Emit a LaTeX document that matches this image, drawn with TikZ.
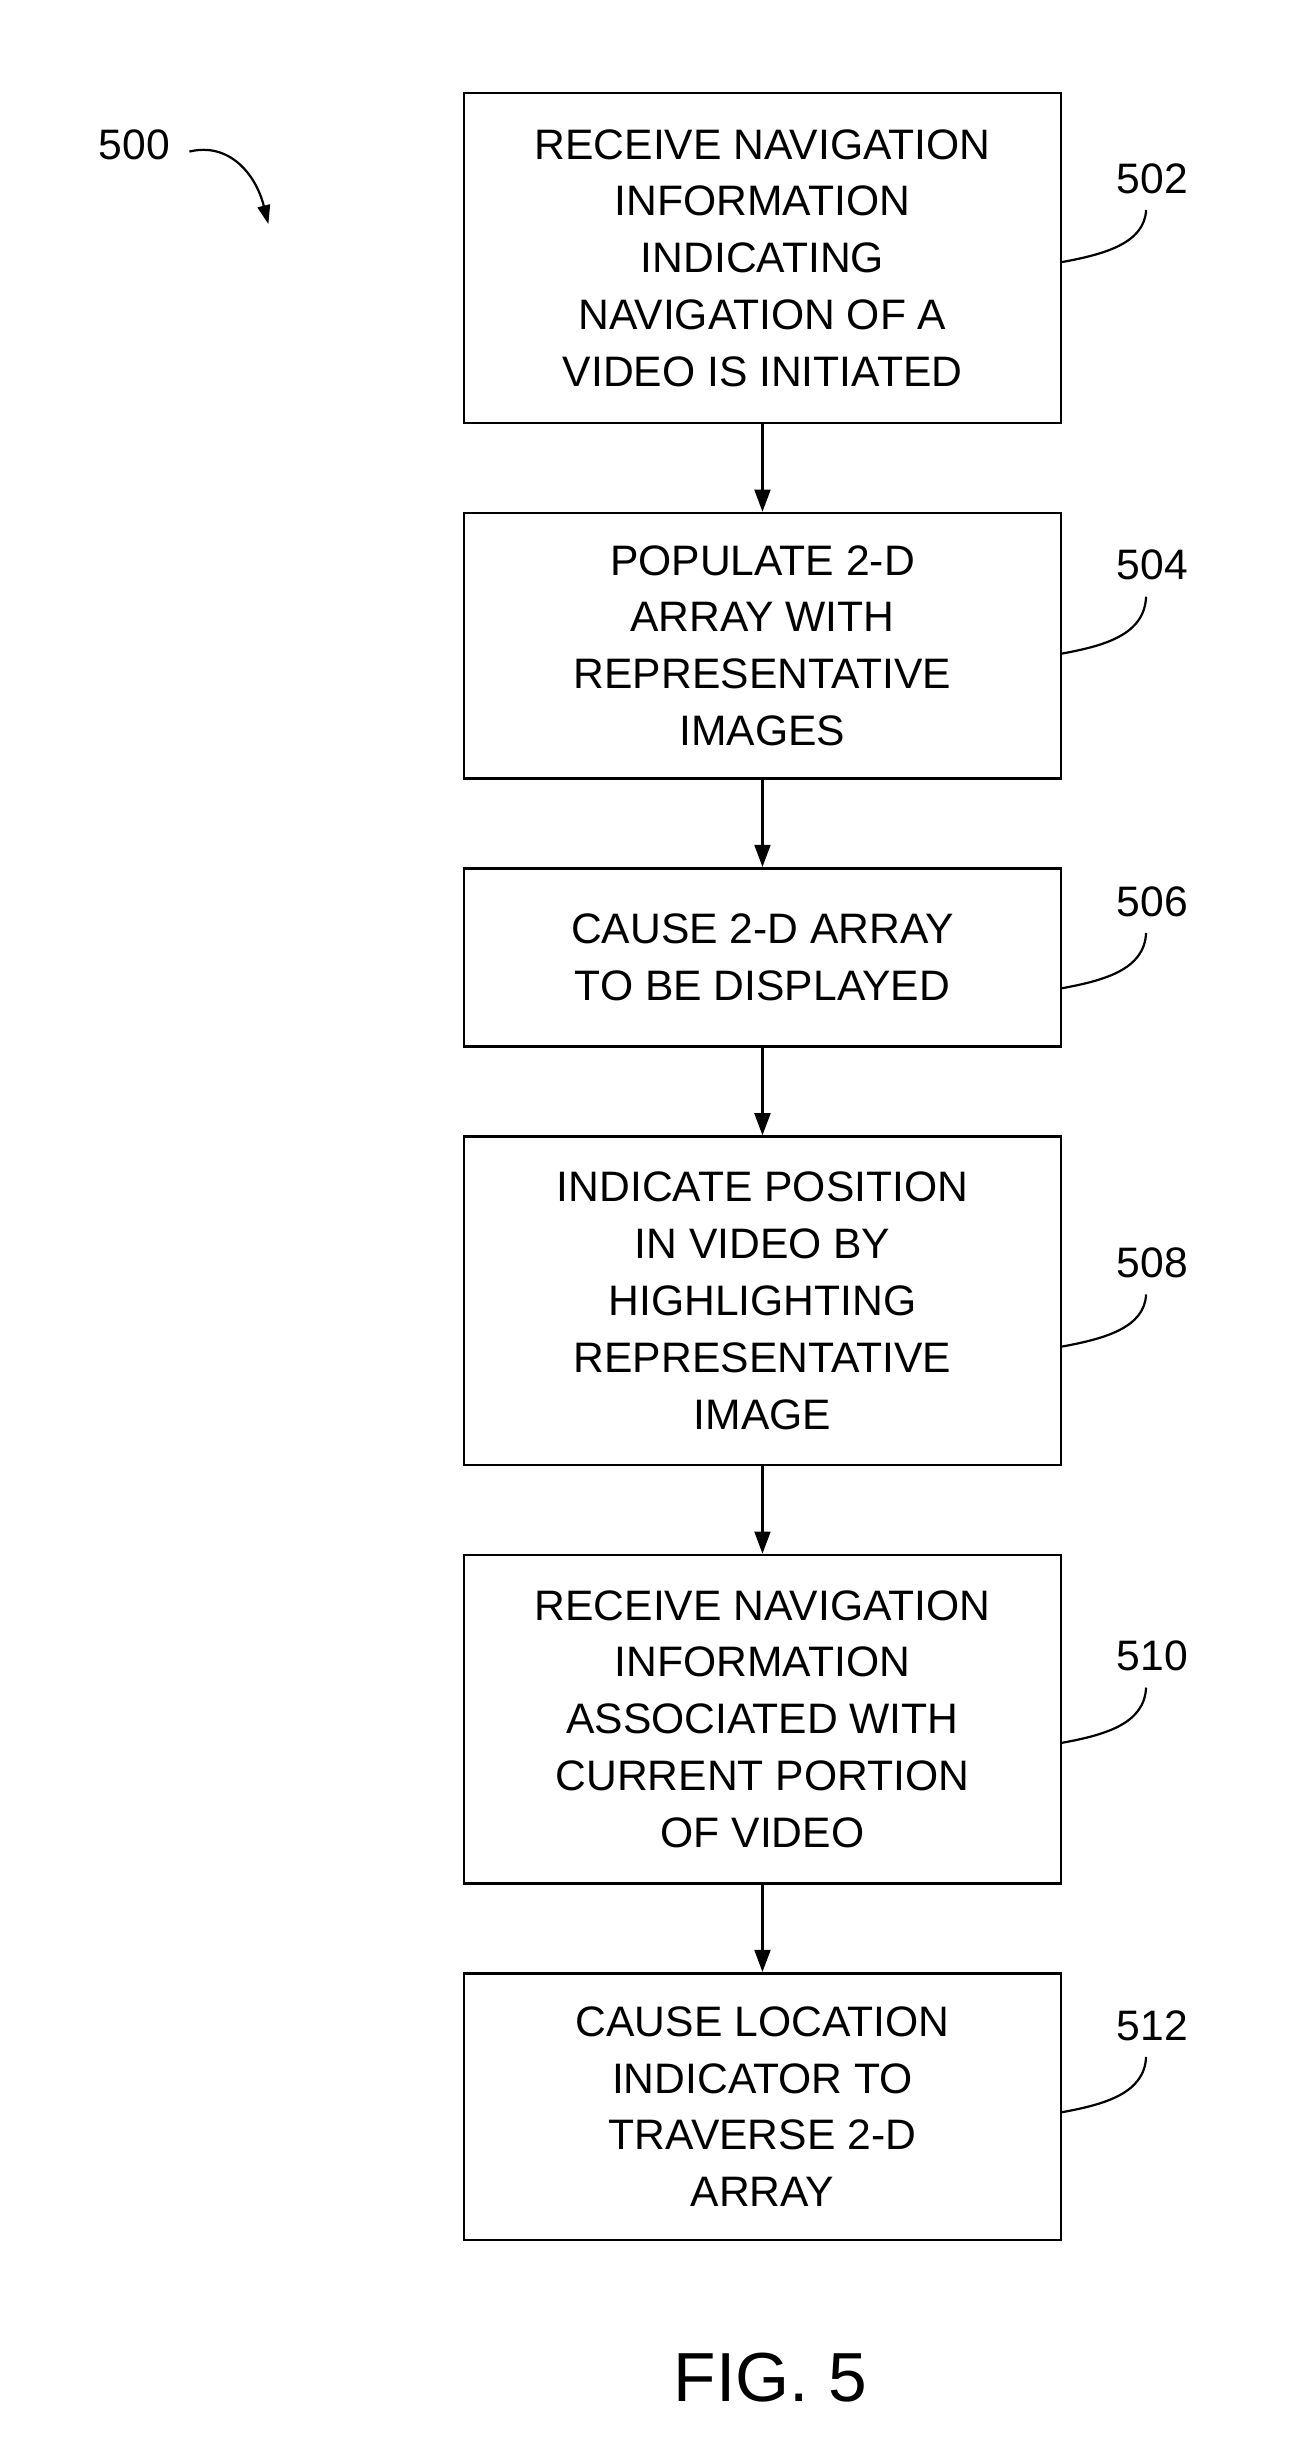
\documentclass[tikz,border=0pt]{standalone}
\usepackage{fontspec}
\setmainfont{Liberation Sans}
\usetikzlibrary{arrows.meta}
\begin{document}
\begin{tikzpicture}[x=1pt,y=-1pt,
 box/.style={draw,line width=1.6pt,minimum width=378pt,align=center,inner sep=0pt,font=\fontsize{27}{36}\selectfont},
 arr/.style={line width=1.6pt,-{Triangle[length=14pt,width=10pt]}},
 lead/.style={line width=1.4pt},
 lab/.style={font=\fontsize{27}{32}\selectfont}]
\useasboundingbox (0,0) rectangle (830,1552);
\node[box,minimum height=209pt] (b502) at (483,163.5) {RECEIVE NAVIGATION\\INFORMATION\\INDICATING\\NAVIGATION OF A\\VIDEO IS INITIATED};
\node[box,minimum height=168pt] (b504) at (483,409) {POPULATE 2-D\\ARRAY WITH\\REPRESENTATIVE\\IMAGES};
\node[box,minimum height=113pt] (b506) at (483,606.5) {CAUSE 2-D ARRAY\\TO BE DISPLAYED};
\node[box,minimum height=208pt] (b508) at (483,824) {INDICATE POSITION\\IN VIDEO BY\\HIGHLIGHTING\\REPRESENTATIVE\\IMAGE};
\node[box,minimum height=208pt] (b510) at (483,1089) {RECEIVE NAVIGATION\\INFORMATION\\ASSOCIATED WITH\\CURRENT PORTION\\OF VIDEO};
\node[box,minimum height=169pt] (b512) at (483,1334.5) {CAUSE LOCATION\\INDICATOR TO\\TRAVERSE 2-D\\ARRAY};
\foreach \a/\b in {b502/b504,b504/b506,b506/b508,b508/b510,b510/b512}
  \draw[arr] (\a.south) -- (\b.north);
\foreach \n/\y/\ly in {502/166/113,504/414/358,506/626/571,508/853/800,510/1104/1049,512/1338/1283}{
  \node[lab] (l\n) at (730,\ly) {\n};
  \coordinate (c\n) at (726,\ly+20);
  \draw[lead] (b\n.east |- 0,\y) .. controls (700,\y-5) and (725,\y-12) .. (c\n);
}
\node[lab] (l500) at (85,92) {500};
\coordinate (t500) at (170,142);
\draw[lead,-{Triangle[length=12pt,width=8pt]}] (120,96) .. controls (145,90) and (162,110) .. (t500);
\node[font=\fontsize{44}{50}\selectfont] (fig) at (488,1506) {FIG. 5};
\end{tikzpicture}
\end{document}
